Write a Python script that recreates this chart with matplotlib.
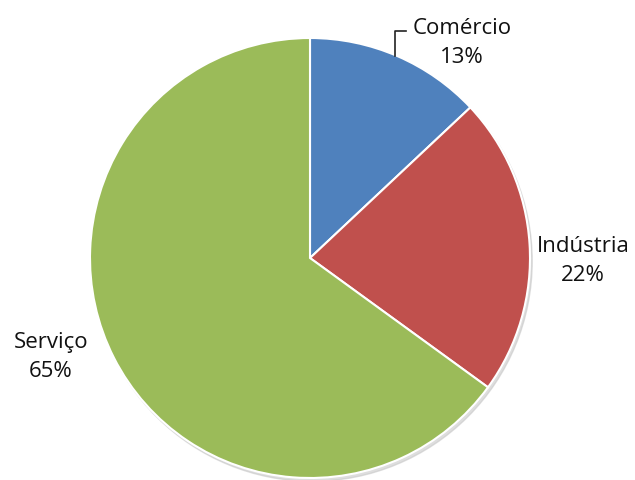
import matplotlib.pyplot as plt
from matplotlib.patches import Circle

labels = ["Comércio", "Indústria", "Serviço"]
values = [13, 22, 65]
colors = ["#4F81BD", "#C0504D", "#9BBB59"]

W, H = 635, 481
cx, cy, r = 310, 259, 220  # pie centre / radius in pixels


def to_data(px, py):
    return (px - cx) / r, (cy - py) / r


fig = plt.figure(figsize=(W / 100, H / 100), dpi=100)
ax = fig.add_axes([0, 0, 1, 1])
ax.axis("off")

# soft shadow under the pie
shadow = Circle((0.01, -0.015), 1.0, color="#c8c8c8", alpha=0.6, zorder=0)
ax.add_patch(shadow)

ax.pie(values, colors=colors, startangle=90, counterclock=False, radius=1,
       wedgeprops=dict(edgecolor="white", linewidth=1.5))
ax.set_xlim(to_data(0, 0)[0], to_data(W, 0)[0])
ax.set_ylim(to_data(0, H)[1], to_data(0, 0)[1])
ax.set_aspect("auto")

font = dict(family=["Open Sans", "DejaVu Sans"], fontsize=16, color="#111111",
            ha="center", va="center", linespacing=1.45)
pos = {"Comércio": (462, 43), "Indústria": (583, 261), "Serviço": (51, 357)}
for lab, v in zip(labels, values):
    x, y = to_data(*pos[lab])
    ax.text(x, y, f"{lab}\n{v}%", **font)

# leader line for Comércio
xs, ys = zip(*[to_data(395, 57), to_data(395, 32), to_data(406, 32)])
ax.plot(xs, ys, color="#222222", linewidth=1.2)

fig.savefig("out.png", dpi=100)
